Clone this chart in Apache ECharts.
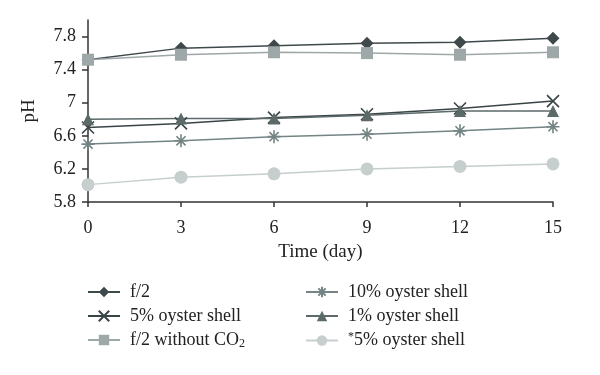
<!DOCTYPE html>
<html>
<head>
<meta charset="utf-8">
<script src="https://cdn.jsdelivr.net/npm/echarts@6/dist/echarts.min.js"></script>
<style>
  html, body { margin: 0; padding: 0; background: #fff; }
  #chart { width: 600px; height: 375px; }
</style>
</head>
<body>
<div id="chart"></div>
<script>
// days on the x axis
const days = [0, 3, 6, 9, 12, 15];
const yTicks = [5.8, 6.2, 6.6, 7.0, 7.4, 7.8];

// pH values
const f2 = [7.52, 7.66, 7.69, 7.72, 7.73, 7.78];
const shell5 = [6.70, 6.75, 6.82, 6.86, 6.93, 7.02];
const f2NoCO2 = [7.52, 7.58, 7.61, 7.60, 7.58, 7.61];
const shell10 = [6.50, 6.54, 6.59, 6.62, 6.66, 6.71];
const shell1 = [6.80, 6.81, 6.81, 6.85, 6.90, 6.90];
const shell5star = [6.01, 6.10, 6.14, 6.20, 6.23, 6.26];

const FONT = 'Liberation Serif';

const crossPath = 'path://M0,0L10,10M10,0L0,10';
const starPath = 'path://M5,0L5,10M0,5L10,5M1.5,1.5L8.5,8.5M8.5,1.5L1.5,8.5';

function pairs(vals) {
    return days.map((d, i) => [d, vals[i]]);
}

function makeSeries(name, vals, color, symbol, size, stroked) {
    return {
        name: name,
        type: 'line',
        data: pairs(vals),
        symbol: symbol,
        symbolSize: size,
        showSymbol: true,
        lineStyle: { color: color, width: 1.5 },
        itemStyle: stroked
            ? { color: 'rgba(0,0,0,0)', borderColor: color, borderWidth: 1.6 }
            : { color: color, borderWidth: 0 },
        emphasis: { disabled: true },
        animation: false
    };
}

const chart = echarts.init(document.getElementById('chart'));

const legendText = {
    fontFamily: FONT,
    fontSize: 18,
    color: '#222',
    padding: [0, 0, 0, 5],
    rich: {
        sub: { fontFamily: FONT, fontSize: 12, color: '#222', padding: [8, 0, 0, 0] },
        sup: { fontFamily: FONT, fontSize: 12, color: '#222', padding: [0, 0, 7, 0] }
    }
};

function legendFormatter(name) {
    if (name === 'f/2 without CO2') return 'f/2 without CO{sub|2}';
    if (name === '*5% oyster shell') return '{sup|*}5% oyster shell';
    return name;
}

chart.setOption({
    backgroundColor: '#fff',
    grid: { left: 88, right: 47, top: 20, bottom: 173 },
    xAxis: {
        type: 'value',
        min: 0,
        max: 15,
        interval: 3,
        name: 'Time (day)',
        nameLocation: 'middle',
        nameGap: 41,
        nameTextStyle: { fontFamily: FONT, fontSize: 19, color: '#222' },
        axisLine: { onZero: false, lineStyle: { color: '#333', width: 1.5 } },
        axisTick: { show: true, length: 5, lineStyle: { color: '#333', width: 1.5 } },
        axisLabel: { fontFamily: FONT, fontSize: 18, color: '#222', margin: 17 },
        splitLine: { show: false }
    },
    yAxis: {
        type: 'value',
        min: 5.8,
        max: 8.0,
        name: 'pH',
        nameLocation: 'middle',
        nameGap: 49,
        nameTextStyle: { fontFamily: FONT, fontSize: 19, color: '#222' },
        axisLine: { show: true, lineStyle: { color: '#333', width: 1.5 } },
        axisTick: { show: true, length: 6, customValues: yTicks, lineStyle: { color: '#333', width: 1.5 } },
        axisLabel: {
            fontFamily: FONT, fontSize: 18, color: '#222', margin: 12,
            customValues: yTicks,
            formatter: v => (Math.abs(v - 7) < 1e-6 ? '7' : v.toFixed(1))
        },
        splitLine: { show: false }
    },
    legend: [
        {
            data: ['f/2', '5% oyster shell', 'f/2 without CO2'],
            orient: 'vertical',
            left: 82,
            top: 278,
            itemWidth: 32,
            itemHeight: 13,
            itemGap: 6,
            textStyle: legendText,
            formatter: legendFormatter
        },
        {
            data: ['10% oyster shell', '1% oyster shell', '*5% oyster shell'],
            orient: 'vertical',
            left: 300,
            top: 278,
            itemWidth: 32,
            itemHeight: 13,
            itemGap: 6,
            textStyle: legendText,
            formatter: legendFormatter
        }
    ],
    series: [
        makeSeries('f/2', f2, '#3f494b', 'diamond', 13, false),
        makeSeries('5% oyster shell', shell5, '#3a4446', crossPath, 12, true),
        makeSeries('f/2 without CO2', f2NoCO2, '#9ea8a8', 'rect', 12, false),
        makeSeries('10% oyster shell', shell10, '#748484', starPath, 13, true),
        makeSeries('1% oyster shell', shell1, '#5c6a6a', 'triangle', 12, false),
        makeSeries('*5% oyster shell', shell5star, '#c6cece', 'circle', 13, false)
    ]
});
</script>
</body>
</html>
